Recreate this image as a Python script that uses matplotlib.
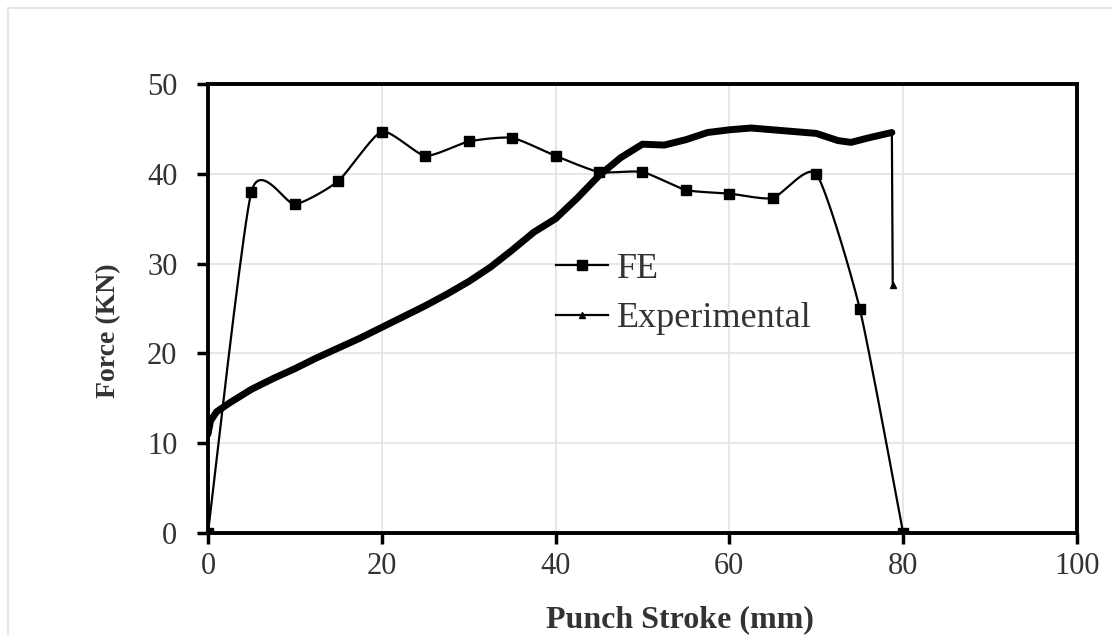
import numpy as np
import matplotlib
matplotlib.use("Agg")
import matplotlib.pyplot as plt
from matplotlib.patches import Rectangle

# FE results (markers every 5 mm)
fe_x = [0, 5, 10, 15, 20, 25, 30, 35, 40, 45, 50, 55, 60, 65, 70, 75, 80]
fe_y = [0, 38.0, 36.6, 39.2, 44.7, 42.0, 43.6, 44.0, 42.0, 40.2, 40.2, 38.2, 37.8, 37.3, 40.0, 25.0, 0]

# Experimental curve
exp_x = [0, 0.3, 1, 2.5, 5, 7.5, 10, 12.5, 15, 17.5, 20, 22.5, 25, 27.5, 30, 32.5,
         35, 37.5, 40, 42.5, 45, 47.5, 50, 52.5, 55, 57.5, 60, 62.5, 65, 67.5,
         70, 72.5, 74, 76, 78.7, 78.8]
exp_y = [11.0, 12.5, 13.5, 14.5, 16.0, 17.2, 18.3, 19.5, 20.6, 21.7, 22.9, 24.1,
         25.3, 26.6, 28.0, 29.6, 31.5, 33.5, 35.0, 37.3, 39.8, 41.8, 43.3, 43.2,
         43.8, 44.6, 44.9, 45.1, 44.9, 44.7, 44.5, 43.7, 43.5, 44.0, 44.6, 27.6]


def smooth(x, y, k=0.3, n=20):
    # cubic Hermite curve through the points (similar to Excel "smoothed line")
    p = np.column_stack([x, y]).astype(float)
    pe = np.vstack([p[0], p, p[-1]])
    m = k * (pe[2:] - pe[:-2])
    t = np.linspace(0, 1, n, endpoint=False)[:, None]
    h00 = 2 * t ** 3 - 3 * t ** 2 + 1
    h10 = t ** 3 - 2 * t ** 2 + t
    h01 = -2 * t ** 3 + 3 * t ** 2
    h11 = t ** 3 - t ** 2
    out = []
    for i in range(len(p) - 1):
        out.append(h00 * p[i] + h10 * m[i] + h01 * p[i + 1] + h11 * m[i + 1])
    out.append(p[-1][None, :])
    out = np.vstack(out)
    return out[:, 0], out[:, 1]


plt.rcParams['font.family'] = ['Liberation Serif', 'DejaVu Serif']

fig = plt.figure(figsize=(11.12, 6.35), dpi=100)
fig.patches.append(Rectangle((0.007, -0.01), 1.0, 0.997, transform=fig.transFigure,
                             fill=False, edgecolor='#e6e6e6', linewidth=1.5))
ax = fig.add_axes([0.187, 0.1606, 0.7815, 0.7071])

sx, sy = smooth(fe_x, fe_y)
ax.plot(sx, sy, color='black', linewidth=1.6, zorder=3)
ax.plot(fe_x, fe_y, linestyle='none', marker='s', markersize=7, color='black', zorder=4)
fe_handle, = ax.plot([], [], color='black', linewidth=1.6, marker='s', markersize=7, label='FE')

ax.plot(exp_x[:-1], exp_y[:-1], color='black', linewidth=5, solid_capstyle='round', zorder=3)
ax.plot(exp_x, exp_y, color='black', linewidth=1.6, zorder=3)
ax.plot(exp_x[-1:], exp_y[-1:], linestyle='none', marker='^', markersize=4, color='black', zorder=4)
exp_handle, = ax.plot([], [], color='black', linewidth=1.6, marker='^', markersize=4,
                      label='Experimental')

ax.set_xlim(0, 100)
ax.set_ylim(0, 50)
ax.set_xticks(range(0, 101, 20))
ax.set_yticks(range(0, 51, 10))
ax.grid(True, color='#e3e3e3', linewidth=1.2)
ax.set_axisbelow(True)
for s in ax.spines.values():
    s.set_linewidth(2.8)
ax.tick_params(direction='out', length=8, width=2.5, labelsize=22, colors='black')
ax.tick_params(axis='x', pad=6)
ax.tick_params(axis='y', pad=14)
for lab in ax.get_xticklabels() + ax.get_yticklabels():
    lab.set_color('#333333')

ax.set_xlabel('Punch Stroke (mm)', fontsize=23, fontweight='bold', color='#333333')
ax.set_ylabel('Force (KN)', fontsize=20, fontweight='bold', color='#333333')
ax.xaxis.set_label_coords(0.543, -0.160)
ax.yaxis.set_label_coords(-0.100, 0.45)

ax.legend(handles=[fe_handle, exp_handle], loc='upper left', bbox_to_anchor=(0.40, 0.625),
          frameon=False, fontsize=26, handlelength=1.45, handletextpad=0.25,
          borderpad=0, borderaxespad=0, labelspacing=0.45, labelcolor='#333333')

fig.savefig('out.png', dpi=100)
